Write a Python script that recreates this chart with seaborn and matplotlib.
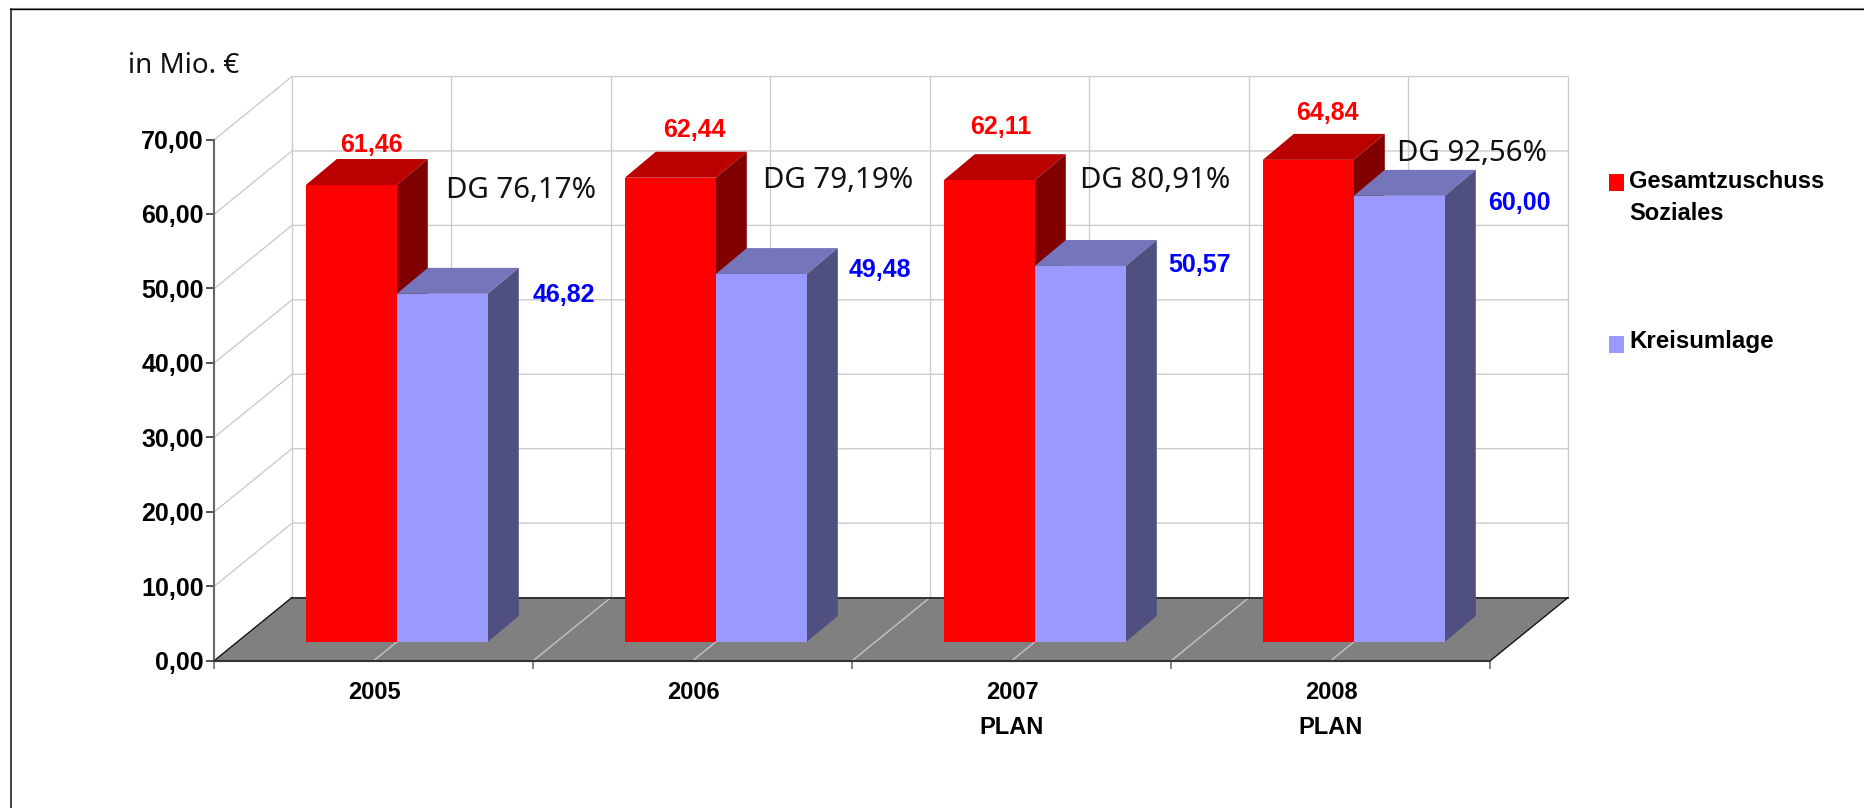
import matplotlib
matplotlib.use("Agg")
import matplotlib.pyplot as plt
import seaborn as sns
import pandas as pd
from matplotlib.patches import Polygon, Rectangle
from matplotlib.lines import Line2D

years = ["2005", "2006", "2007\nPLAN", "2008\nPLAN"]
gesamt = [61.46, 62.44, 62.11, 64.84]
kreis = [46.82, 49.48, 50.57, 60.00]
dg_labels = ["DG 76,17%", "DG 79,19%", "DG 80,91%", "DG 92,56%"]
series_names = ["Gesamtzuschuss\nSoziales", "Kreisumlage"]
y_ticks = [0, 10, 20, 30, 40, 50, 60, 70]

W, H = 1865, 808
df = pd.DataFrame({
    "Jahr": years * 2,
    "Wert": gesamt + kreis,
    "Reihe": [series_names[0]] * 4 + [series_names[1]] * 4,
})

sns.set_theme(style="white")
plt.rcParams["font.family"] = ["Liberation Sans", "DejaVu Sans"]

fig = plt.figure(figsize=(W / 100, H / 100), dpi=100, facecolor="white")

def rect(x0, x1, ytop, ybot):
    return [x0 / W, 1 - ybot / H, (x1 - x0) / W, (ybot - ytop) / H]

def ptext(x, y, s, **kw):
    fig.text(x / W, 1 - y / H, s, ha="center", va="center", **kw)

GRID = "#cccccc"
DARK = "#333333"
SPINE = "#666666"

# frame
fig.add_artist(Line2D([10.5 / W, W / W], [1 - 8 / H, 1 - 8 / H], color="#999999", lw=0.8))
fig.add_artist(Line2D([10.5 / W, W / W], [1 - 9.3 / H, 1 - 9.3 / H], color="#000000", lw=1.0))
fig.add_artist(Line2D([11 / W, 11 / W], [0, 1 - 9 / H], color="#111111", lw=1.1))

# base axes: front plane of the chart box
ax = fig.add_axes(rect(214.5, 1490.5, 139.5, 660.5))
ax.set_xlim(-0.5, 3.5)
ax.set_ylim(0, 70)
ax.patch.set_visible(False)
ddx = 77.5 / 319
ddy = 63 / 7.445
x0, x1 = -0.5, 3.5

for v in y_ticks[1:]:
    ax.plot([x0, x0 + ddx, x1 + ddx], [v, v + ddy, v + ddy], color=GRID, lw=1.0, clip_on=False, zorder=1)
for k in range(1, 9):
    xv = x0 + ddx + k * 0.5
    ax.plot([xv, xv], [ddy, 70 + ddy], color=GRID, lw=1.0, clip_on=False, zorder=1)
ax.plot([x0 + ddx, x0 + ddx], [ddy, 70 + ddy], color=GRID, lw=1.0, clip_on=False, zorder=1)

ax.add_patch(Polygon([(x0, 0), (x1, 0), (x1 + ddx, ddy), (x0 + ddx, ddy)], closed=True,
                     facecolor="#808080", edgecolor="none", clip_on=False, zorder=2))
for k in range(0, 9):
    xv = x0 + k * 0.5
    ax.plot([xv, xv + ddx], [0, ddy], color="#c4c4c4", lw=1.0, clip_on=False, zorder=2.5)
ax.plot([x0 + ddx, x1 + ddx], [ddy, ddy], color=DARK, lw=1.4, clip_on=False, zorder=2.6)
ax.plot([x0, x0 + ddx], [0, ddy], color="#111111", lw=1.0, clip_on=False, zorder=2.6)
ax.plot([x1, x1 + ddx], [0, ddy], color="#111111", lw=1.0, clip_on=False, zorder=2.6)

for s in ("top", "right"):
    ax.spines[s].set_visible(False)
for s in ("left", "bottom"):
    ax.spines[s].set_visible(True)
    ax.spines[s].set_linewidth(1.5)
    ax.spines[s].set_zorder(3)
ax.spines["left"].set_color(SPINE)
ax.spines["bottom"].set_color(DARK)

ax.set_yticks(y_ticks, [f"{v:.2f}".replace(".", ",") for v in y_ticks],
              fontsize=18, fontweight="bold", color="black")
ax.set_xticks([x0 + k for k in range(5)], [""] * 5)
ax.set_xticks(range(4), years, minor=True, fontsize=17, fontweight="bold", color="black", linespacing=1.67)
ax.tick_params(axis="y", which="major", length=5.8, width=1.1, color="#222222", left=True, pad=2)
ax.tick_params(axis="x", which="major", length=5.8, width=1.1, color=SPINE, bottom=True)
ax.tick_params(axis="x", which="minor", length=0, pad=15, bottom=False)

# bars, in their own axes on the plane where the bars stand
bx = fig.add_axes(rect(237.3, 1513.3, 121.5, 641.9), zorder=2)
bx.patch.set_visible(False)
colors = {series_names[0]: "#ff0000", series_names[1]: "#9999ff"}
sns.barplot(data=df, x="Jahr", y="Wert", hue="Reihe", order=years, hue_order=series_names,
            palette=colors, saturation=1, width=0.5705, legend=False, ax=bx, linewidth=0, zorder=3)
bx.set_xlim(-0.5, 3.5)
bx.set_ylim(0, 70)
bx.axis("off")

dx = 31 / 319
dy = 26 / 7.445
shades = [("#bb0000", "#800000", 2.0), ("#7575bb", "#4f4f80", 2.5)]
for cont, (ctop, cside, z) in zip(bx.containers, shades):
    for bar in cont:
        l, w, h = bar.get_x(), bar.get_width(), bar.get_height()
        r = l + w
        bx.add_patch(Polygon([(l, h), (r, h), (r + dx, h + dy), (l + dx, h + dy)], closed=True,
                             facecolor=ctop, edgecolor="none", clip_on=False, zorder=z))
        bx.add_patch(Polygon([(r, 0), (r + dx, dy), (r + dx, h + dy), (r, h)], closed=True,
                             facecolor=cside, edgecolor="none", clip_on=False, zorder=z))

# texts
bold = dict(fontweight="bold", family=["Liberation Sans", "DejaVu Sans"])
red_pos = [(371, 144.5), (694.6, 130), (1001, 126.5), (1327, 113.5)]
blue_pos = [(564, 294.5), (880, 270), (1200, 265), (1519, 203)]
dg_pos = [(521, 190.5), (838.5, 181), (1155, 181), (1472.5, 153.5)]
for v, p in zip(gesamt, red_pos):
    ptext(*p, f"{v:.2f}".replace(".", ","), color="#ff0000", fontsize=18, zorder=5, **bold)
for v, p in zip(kreis, blue_pos):
    ptext(*p, f"{v:.2f}".replace(".", ","), color="#0000ff", fontsize=18, zorder=5, **bold)
for s, p in zip(dg_labels, dg_pos):
    ptext(*p, s, color="#111111", fontsize=21.2, family="Noto Sans", zorder=5)
ptext(184, 66, "in Mio. €", color="#111111", fontsize=20, family="Noto Sans")

# legend
fig.add_artist(Rectangle((1609.4 / W, 1 - 191 / H), 14.8 / W, 17 / H, transform=fig.transFigure,
                         facecolor="#ff0000", edgecolor="none"))
fig.add_artist(Rectangle((1609.4 / W, 1 - 353 / H), 14.8 / W, 17 / H, transform=fig.transFigure,
                         facecolor="#9999ff", edgecolor="none"))
fig.text(1629 / W, 1 - 181 / H, "Gesamtzuschuss", ha="left", va="center", fontsize=17, color="black", **bold)
fig.text(1629 / W, 1 - 213 / H, "Soziales", ha="left", va="center", fontsize=17, color="black", **bold)
fig.text(1629 / W, 1 - 342 / H, "Kreisumlage", ha="left", va="center", fontsize=17.4, color="black", **bold)

fig.savefig("out.png", dpi=100, facecolor="white")
